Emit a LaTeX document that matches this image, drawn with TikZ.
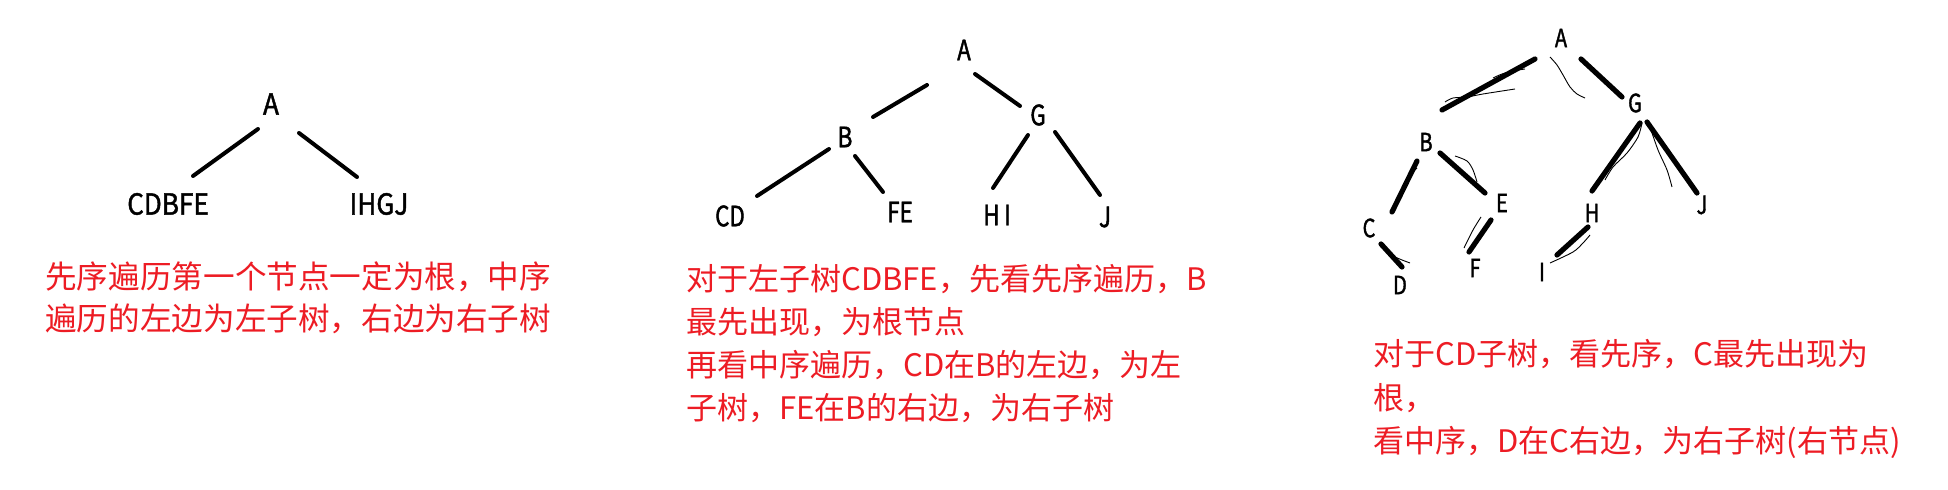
\documentclass[tikz,border=0pt]{standalone}
\usepackage{fontspec}
\usetikzlibrary{calc}
\newfontfamily\cjkfont{Noto Sans CJK SC}
\newfontfamily\letterfont[FakeStretch=0.8,FakeBold=1.5]{Noto Sans CJK SC}
\newfontfamily\wideletterfont[FakeStretch=0.9,FakeBold=1.5]{Noto Sans CJK SC}
\definecolor{paper}{HTML}{FFFFFF}
\definecolor{ink}{HTML}{000000}
\definecolor{notered}{HTML}{ED1C24}

\begin{document}
\begin{tikzpicture}[x=0.5pt,y=-0.5pt,
  letter/.style={inner sep=0pt,text=ink,font=\letterfont\fontsize{14}{16}\selectfont},
  wideletter/.style={letter,font=\wideletterfont\fontsize{14.5}{16}\selectfont},
  smallletter/.style={letter,font=\letterfont\fontsize{12.5}{14}\selectfont},
  edge/.style={draw=ink,line width=2pt,line cap=round},
  heavyedge/.style={draw=ink,line width=2.6pt,line cap=round},
  scribble/.style={draw=ink,line width=0.45pt},
  remark/.style={inner sep=0pt,anchor=north west,align=left,text=notered}]
\fill[paper] (0,0) rectangle (1948,490);
\useasboundingbox (0,0) rectangle (1948,490);

\node[wideletter] (a1) at (271,104){A};
\node[wideletter] (left1) at (168,204){CDBFE};
\node[wideletter] (right1) at (379,204){IHGJ};
\draw[edge] ($(a1)+(-13,25)$)--($(left1)+(25,-28)$);
\draw[edge] ($(a1)+(28,29)$)--($(right1)+(-22,-27)$);
\node[remark,font=\cjkfont\fontsize{15.8}{21}\selectfont] (rule1) at (45,261){先序遍历第一个节点一定为根，中序\\遍历的左边为左子树，右边为右子树};

\node[letter] (a2) at (964,50){A};
\node[letter] (b2) at (845,137){B};
\node[letter] (g2) at (1038,115){G};
\node[letter] (cd2) at (730,216){CD};
\node[letter] (fe2) at (900,212){FE};
\node[letter] (hi2) at (997,215){H\,I};
\node[letter] (j2) at (1105,217){J};
\draw[edge] ($(a2)+(-37,35)$)--($(b2)+(28,-20)$);
\draw[edge] ($(a2)+(11,24)$)--($(g2)+(-18,-9)$);
\draw[edge] ($(b2)+(-16,12)$)--($(cd2)+(27,-20)$);
\draw[edge] ($(b2)+(10,19)$)--($(fe2)+(-17,-20)$);
\draw[edge] ($(g2)+(-10,20)$)--($(hi2)+(-4,-27)$);
\draw[edge] ($(g2)+(17,17)$)--($(j2)+(-5,-22)$);
\node[remark,font=\cjkfont\fontsize{15.5}{21.5}\selectfont] (rule2) at (686,264){对于左子树CDBFE，先看先序遍历，B\\最先出现，为根节点\\再看中序遍历，CD在B的左边，为左\\子树，FE在B的右边，为右子树};

\node[smallletter] (a3) at (1561,38){A};
\node[smallletter] (g3) at (1635,103){G};
\node[smallletter] (b3) at (1426,142){B};
\node[smallletter] (e3) at (1502,203){E};
\node[smallletter] (c3) at (1369,228){C};
\node[smallletter] (d3) at (1400,285){D};
\node[smallletter] (f3) at (1475,268){F};
\node[smallletter] (h3) at (1592,213){H};
\node[smallletter] (i3) at (1542,272){I};
\node[smallletter] (j3) at (1702,205){J};
\draw[heavyedge] ($(a3)+(-26,21)$)--($(b3)+(16,-32)$);
\draw[heavyedge] ($(a3)+(20,21)$)--($(g3)+(-13,-6)$);
\draw[heavyedge] ($(b3)+(-9,19)$)--($(c3)+(23,-16)$);
\draw[heavyedge] ($(b3)+(14,11)$)--($(e3)+(-17,-10)$);
\draw[heavyedge] ($(c3)+(12,16)$)--($(d3)+(2,-18)$);
\draw[heavyedge] ($(e3)+(-11,17)$)--($(f3)+(-6,-16)$);
\draw[heavyedge] ($(g3)+(5,20)$)--($(h3)+(0,-22)$);
\draw[heavyedge] ($(g3)+(12,19)$)--($(j3)+(-5,-12)$);
\draw[heavyedge] ($(h3)+(-4,14)$)--($(i3)+(15,-17)$);
\draw[scribble] plot[smooth] coordinates {(1445,102) (1453,98) (1467,97) (1483,94) (1515,89)};
\draw[scribble] plot[smooth] coordinates {(1493,78) (1502,74) (1513,71) (1525,69)};
\draw[scribble] plot[smooth] coordinates {(1550,57) (1557,65) (1563,75) (1570,87) (1577,94) (1585,98)};
\draw[scribble] plot[smooth] coordinates {(1455,156) (1467,161) (1473,170) (1477,182)};
\draw[scribble] plot[smooth] coordinates {(1481,217) (1473,230) (1464,248)};
\draw[scribble] plot[smooth] coordinates {(1395,257) (1402,260) (1410,263)};
\draw[scribble] plot[smooth] coordinates {(1642,123) (1638,137) (1627,153) (1613,167) (1605,180)};
\draw[scribble] plot[smooth] coordinates {(1650,127) (1658,150) (1667,170) (1672,187)};
\draw[scribble] plot[smooth] coordinates {(1590,235) (1583,243) (1573,252) (1550,263)};
\draw[scribble] (1413,172)--(1417,168);
\node[remark,font=\cjkfont\fontsize{15.5}{21.75}\selectfont] (rule3) at (1373,339){对于CD子树，看先序，C最先出现为\\根，\\看中序，D在C右边，为右子树(右节点)};
\end{tikzpicture}
\end{document}
